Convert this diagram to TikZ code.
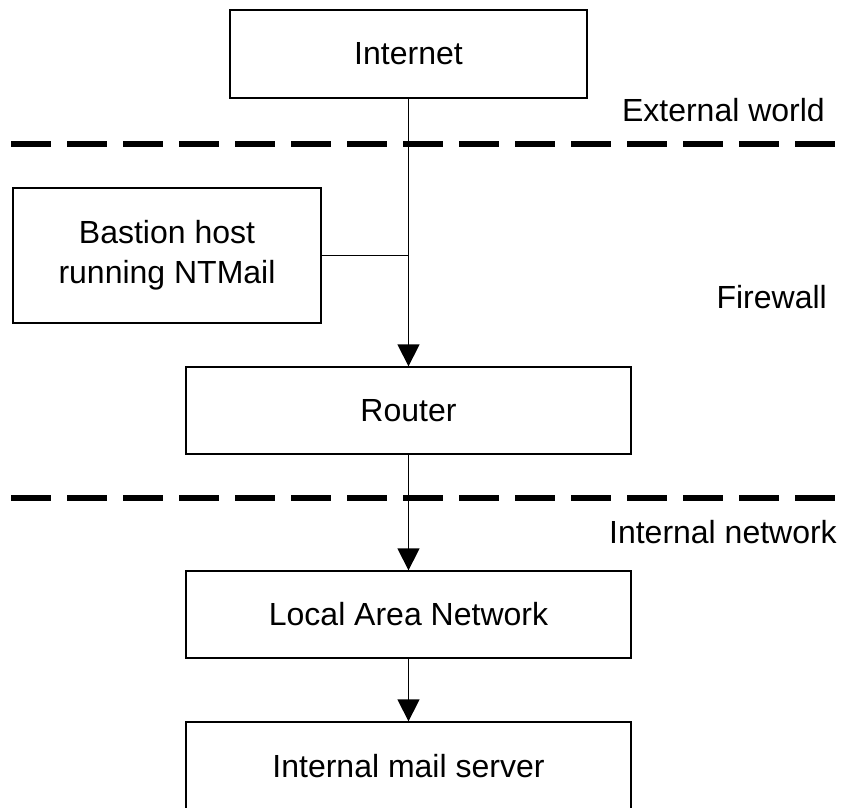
\documentclass[tikz,border=0pt]{standalone}
\usepackage{fontspec}
\setmainfont{Liberation Sans}
\usepackage{tikz}
\usetikzlibrary{arrows.meta,positioning}
\tikzset{font=\fontsize{32}{40}\selectfont}
\tikzset{box/.style={draw, line width=1.3pt, inner sep=0pt, align=center}}
\tikzset{border/.style={line width=5.5pt, dash pattern=on 40pt off 16pt}}
\tikzset{link/.style={line width=1.3pt}}
\tikzset{zonelabel/.style={anchor=east, inner sep=0pt}}

\begin{document}
\begin{tikzpicture}[x=1pt, y=-1pt, >={Triangle[width=22pt,length=22pt]}]
\useasboundingbox (0,0) rectangle (841,808);
\clip (0,0) rectangle (841,808);
% boxes
\node[box, minimum width=357pt, minimum height=88pt] (internet) at (408.5,54) {Internet};
\node[box, minimum width=308pt, minimum height=135pt] (bastion) at (167,255.5) {Bastion host\\running NTMail};
\node[box, minimum width=445pt, minimum height=87pt] (router) at (408.5,410.5) {Router};
\node[box, minimum width=445pt, minimum height=87pt] (lan) at (408.5,614.5) {Local Area Network};
\node[box, minimum width=445pt, minimum height=88pt] (mail) at (408.5,766) {Internal mail server};
% zone borders
\draw[border] (11,144) -- (841,144);
\draw[border] (11,498) -- (841,498);
\node[zonelabel] (external) at (825,110) {External world};
\node[zonelabel] (firewall) at (827,297) {Firewall};
\node[zonelabel] (internal) at (837,532) {Internal network};
% connectors
\coordinate (join) at (bastion.east -| internet.south);
\draw[link, ->] (internet) -- (router);
\draw[link] (bastion.east) -- (join);
\draw[link, ->] (router) -- (lan);
\draw[link, ->] (lan) -- (mail);
\end{tikzpicture}
\end{document}
